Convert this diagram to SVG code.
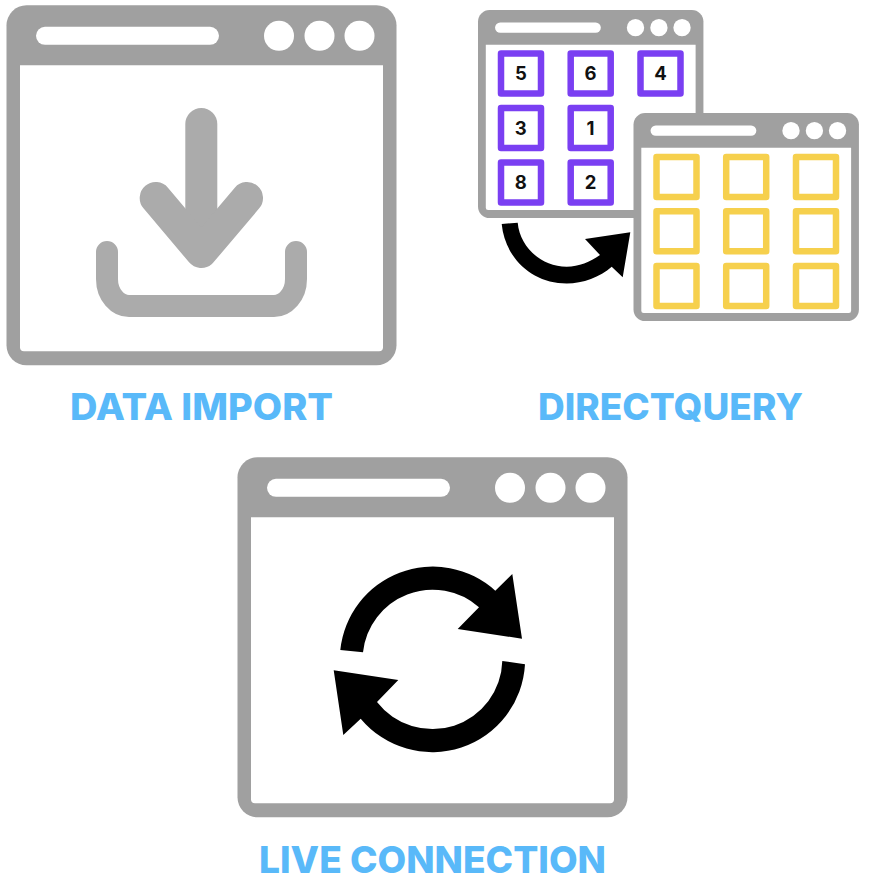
<svg xmlns="http://www.w3.org/2000/svg" width="870" height="896" viewBox="0 0 870 896">
  <style>
    .frame { fill: #a0a0a0; }
    .hole { fill: #ffffff; }
    .icon { fill: #ababab; }
    .ink { fill: #000000; }
    .purple { fill: none; stroke: #7a3ff2; stroke-width: 6.5; stroke-linejoin: round; }
    .yellow { fill: none; stroke: #f6d04d; stroke-width: 6.5; stroke-linejoin: round; }
    .num { font-family: "Inter", "Liberation Sans", sans-serif; font-weight: 700; font-size: 18.5px; text-anchor: middle; fill: #111111; }
    .label { font-family: "Inter", "Liberation Sans", sans-serif; font-weight: 800; font-size: 37px; fill: #59b9f9; }
  </style>
  <defs>
    <g id="window">
      <rect class="frame" width="390" height="360" rx="20"/>
      <path class="hole" d="M13.500 60H376.500V342a4 4 0 0 1-4 4H17.500a4 4 0 0 1-4-4Z"/>
      <rect class="hole" x="29.500" y="21.500" width="183" height="18" rx="9"/>
      <circle class="hole" cx="272.500" cy="30.500" r="15"/>
      <circle class="hole" cx="313" cy="30.500" r="15"/>
      <circle class="hole" cx="353" cy="30.500" r="15"/>
    </g>
    <rect id="cellP" class="purple" width="40" height="40"/>
    <rect id="cellY" class="yellow" width="40" height="40"/>
  </defs>

  <g id="data-import">
    <use href="#window" x="6.500" y="5.300"/>
    <g id="download-icon">
      <rect class="icon" x="185.300" y="108" width="32" height="140" rx="16"/>
      <path fill="none" stroke="#ababab" stroke-width="32" stroke-linecap="round" stroke-linejoin="round" d="M155.700 198L201.300 252L247 198"/>
      <path fill="none" stroke="#ababab" stroke-width="22" stroke-linecap="round" d="M107 252V279C107 295 118 306 129 306H274C285 306 296 295 296 279V252"/>
    </g>
    <text class="label" x="70" y="420" textLength="263" lengthAdjust="spacingAndGlyphs">DATA IMPORT</text>
  </g>

  <g id="directquery-source">
    <use href="#window" transform="translate(478 10) scale(.578)"/>
    <g id="source-cells">
      <use href="#cellP" x="501" y="53.500"/><text class="num" x="520.800" y="80">5</text>
      <use href="#cellP" x="570.700" y="53.500"/><text class="num" x="590.500" y="80">6</text>
      <use href="#cellP" x="640.500" y="53.500"/><text class="num" x="660.500" y="80">4</text>
      <use href="#cellP" x="501" y="108"/><text class="num" x="520.800" y="134.500">3</text>
      <use href="#cellP" x="570.700" y="108"/><text class="num" x="590.500" y="134.500">1</text>
      <use href="#cellP" x="501" y="162.500"/><text class="num" x="520.800" y="189">8</text>
      <use href="#cellP" x="570.700" y="162.500"/><text class="num" x="590.500" y="189">2</text>
    </g>
  </g>

  <g id="directquery-target">
    <use href="#window" transform="translate(633.500 113) scale(.578)"/>
    <g id="target-cells">
      <use href="#cellY" x="656.500" y="157"/><use href="#cellY" x="726.200" y="157"/><use href="#cellY" x="796" y="157"/>
      <use href="#cellY" x="656.500" y="211.300"/><use href="#cellY" x="726.200" y="211.300"/><use href="#cellY" x="796" y="211.300"/>
      <use href="#cellY" x="656.500" y="266"/><use href="#cellY" x="726.200" y="266"/><use href="#cellY" x="796" y="266"/>
    </g>
    <text class="label" x="538" y="420" textLength="265" lengthAdjust="spacingAndGlyphs">DIRECTQUERY</text>
  </g>

  <g id="live-connection">
    <use href="#window" x="237.500" y="457.300"/>
    <g id="refresh-icon">
      <path class="ink" d="M340.300 650A93 93 0 0 1 495.300 590.700L512.300 574L522 638.700L457.700 629L479 607.300A70 70 0 0 0 363 652.300Z"/>
      <path class="ink" d="M525 664.300A93 93 0 0 1 360.700 718.700L343.300 735L333.700 670.300L398.300 680L377 702A70 70 0 0 0 502.300 661Z"/>
    </g>
    <text class="label" x="259" y="873" textLength="347" lengthAdjust="spacingAndGlyphs">LIVE CONNECTION</text>
  </g>

  <g id="connectors">
    <path class="ink" d="M501.700 224C505 258 532 283.500 566.700 283.500C583 283.500 600 277 611.700 266.700L622.700 277.300L630.300 232.300L585 239L600 255C590 262 579 266.700 566.700 266.700C541 266.700 520 247 517.700 222.700Z"/>
  </g>
</svg>
